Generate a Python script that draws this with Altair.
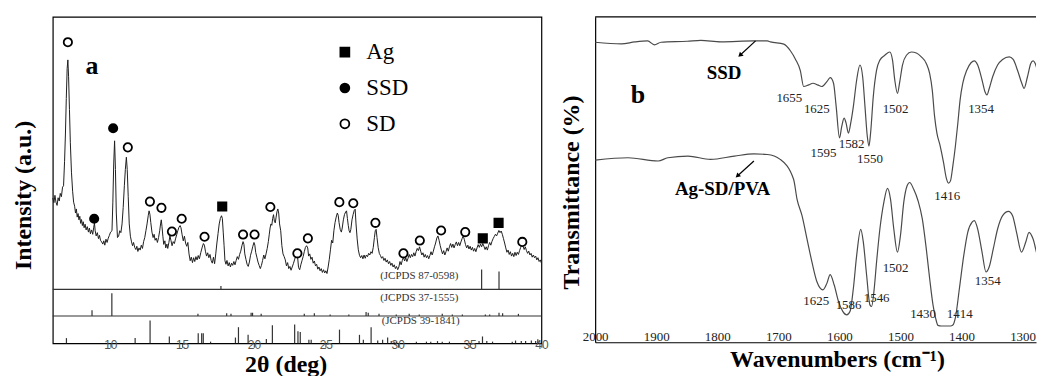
import altair as alt
import pandas as pd

# ---------------- (a) XRD pattern ----------------
xrd_2theta = [6.00, 6.08, 6.15, 6.22, 6.30, 6.37, 6.45, 6.52, 6.60, 6.68, 6.75, 6.82, 6.88, 6.94, 7.00, 7.05, 7.10, 7.16, 7.22, 7.30,
              7.38, 7.45, 7.52, 7.58, 7.64, 7.70, 7.76, 7.82, 7.88, 7.94, 8.00, 8.06, 8.12, 8.18, 8.25, 8.32, 8.40, 8.48, 8.55, 8.62,
              8.70, 8.78, 8.85, 8.90, 8.95, 9.02, 9.10, 9.18, 9.25, 9.32, 9.40, 9.48, 9.55, 9.62, 9.70, 9.78, 9.86, 9.94, 10.02, 10.12,
              10.18, 10.24, 10.30, 10.36, 10.42, 10.50, 10.58, 10.66, 10.74, 10.82, 10.90, 10.98, 11.05, 11.12, 11.18, 11.25, 11.32, 11.40, 11.48, 11.55,
              11.62, 11.70, 11.78, 11.85, 11.92, 12.00, 12.08, 12.16, 12.24, 12.32, 12.40, 12.48, 12.56, 12.64, 12.70, 12.76, 12.82, 12.90, 12.98, 13.05,
              13.12, 13.20, 13.28, 13.36, 13.44, 13.50, 13.55, 13.60, 13.66, 13.72, 13.80, 13.86, 13.94, 14.00, 14.08, 14.15, 14.22, 14.30, 14.38, 14.46,
              14.54, 14.62, 14.70, 14.78, 14.86, 14.92, 15.00, 15.08, 15.16, 15.24, 15.32, 15.40, 15.48, 15.56, 15.64, 15.72, 15.80, 15.88, 15.96, 16.04,
              16.12, 16.20, 16.30, 16.40, 16.48, 16.55, 16.62, 16.70, 16.78, 16.86, 16.94, 17.02, 17.10, 17.18, 17.26, 17.34, 17.42, 17.50, 17.58, 17.66,
              17.74, 17.80, 17.86, 17.92, 17.98, 18.05, 18.12, 18.20, 18.28, 18.36, 18.44, 18.52, 18.60, 18.68, 18.76, 18.84, 18.92, 19.00, 19.08, 19.16,
              19.24, 19.30, 19.36, 19.44, 19.52, 19.60, 19.68, 19.76, 19.84, 19.92, 20.00, 20.06, 20.12, 20.20, 20.28, 20.36, 20.44, 20.52, 20.60, 20.68,
              20.76, 20.84, 20.92, 21.00, 21.06, 21.12, 21.18, 21.24, 21.30, 21.36, 21.42, 21.48, 21.54, 21.60, 21.66, 21.72, 21.78, 21.86, 21.94, 22.02,
              22.10, 22.18, 22.26, 22.34, 22.42, 22.50, 22.58, 22.66, 22.74, 22.82, 22.90, 22.98, 23.04, 23.10, 23.18, 23.26, 23.34, 23.42, 23.50, 23.58,
              23.66, 23.74, 23.80, 23.88, 23.96, 24.04, 24.12, 24.20, 24.28, 24.36, 24.44, 24.52, 24.60, 24.68, 24.76, 24.84, 24.92, 25.00, 25.08, 25.16,
              25.24, 25.32, 25.40, 25.48, 25.56, 25.64, 25.72, 25.80, 25.86, 25.92, 26.00, 26.08, 26.14, 26.22, 26.30, 26.38, 26.44, 26.50, 26.56, 26.62,
              26.68, 26.74, 26.82, 26.90, 26.98, 27.04, 27.10, 27.18, 27.26, 27.34, 27.42, 27.50, 27.58, 27.66, 27.74, 27.82, 27.90, 27.98, 28.06, 28.14,
              28.22, 28.30, 28.38, 28.44, 28.50, 28.56, 28.64, 28.72, 28.80, 28.88, 28.96, 29.04, 29.12, 29.20, 29.28, 29.36, 29.44, 29.52, 29.60, 29.68,
              29.76, 29.84, 29.92, 30.00, 30.08, 30.16, 30.24, 30.32, 30.40, 30.48, 30.56, 30.64, 30.72, 30.80, 30.88, 30.96, 31.04, 31.12, 31.20, 31.28,
              31.36, 31.44, 31.52, 31.60, 31.68, 31.76, 31.84, 31.92, 32.00, 32.08, 32.16, 32.24, 32.32, 32.40, 32.48, 32.56, 32.64, 32.72, 32.80, 32.88,
              32.96, 33.04, 33.12, 33.20, 33.28, 33.36, 33.44, 33.52, 33.60, 33.68, 33.76, 33.84, 33.92, 34.00, 34.08, 34.16, 34.24, 34.32, 34.40, 34.48,
              34.56, 34.64, 34.72, 34.80, 34.88, 34.96, 35.04, 35.12, 35.20, 35.28, 35.36, 35.44, 35.52, 35.60, 35.68, 35.76, 35.84, 35.92, 36.00, 36.08,
              36.16, 36.24, 36.32, 36.40, 36.48, 36.56, 36.64, 36.72, 36.80, 36.88, 36.96, 37.04, 37.12, 37.20, 37.28, 37.36, 37.44, 37.52, 37.60, 37.68,
              37.76, 37.84, 37.92, 38.00, 38.08, 38.16, 38.24, 38.32, 38.40, 38.48, 38.56, 38.64, 38.72, 38.80, 38.88, 38.96, 39.04, 39.12, 39.20, 39.28,
              39.36, 39.44, 39.52, 39.60, 39.68, 39.76, 39.84, 39.92, 40.00]
xrd_intensity = [33.5, 31.8, 34.5, 32.0, 30.8, 33.6, 32.4, 35.2, 34.0, 37.5, 38.0, 47.0, 57.0, 70.0, 81.0, 84.2, 78.0, 66.0, 54.0, 43.0,
                 36.0, 32.0, 30.5, 28.0, 29.5, 26.5, 27.8, 25.5, 26.8, 24.2, 25.6, 23.4, 24.8, 22.6, 23.9, 21.8, 23.0, 21.0, 22.5, 20.4,
                 21.8, 20.2, 22.8, 24.3, 21.5, 19.6, 20.8, 18.6, 19.8, 18.0, 17.4, 16.6, 17.8, 16.2, 18.4, 17.2, 18.8, 19.8, 21.0, 21.5,
                 32.0, 46.0, 54.5, 44.0, 28.0, 19.0, 19.5, 21.5, 20.8, 24.0, 30.0, 38.0, 44.0, 48.5, 44.0, 34.0, 24.0, 19.5, 17.4, 16.0,
                 17.2, 15.4, 14.6, 15.8, 13.9, 15.2, 14.4, 16.2, 15.0, 17.5, 19.0, 21.5, 24.0, 27.0, 28.8, 27.5, 24.5, 21.0, 19.0, 20.2,
                 18.0, 18.8, 17.2, 19.0, 21.5, 24.0, 25.5, 23.0, 19.5, 16.5, 17.8, 15.2, 16.6, 15.0, 17.2, 19.6, 18.0, 16.0, 17.5, 16.8,
                 18.5, 20.0, 21.5, 22.8, 23.4, 22.6, 20.0, 17.8, 19.5, 17.0, 15.8, 17.2, 13.0, 10.5, 11.8, 9.8, 11.6, 10.2, 12.0, 10.8,
                 12.4, 11.2, 13.5, 15.5, 16.8, 16.2, 14.0, 12.2, 13.4, 11.6, 12.8, 10.6, 9.6, 11.8, 9.4, 13.0, 17.0, 20.5, 24.0, 26.0,
                 27.0, 26.0, 21.0, 16.0, 10.5, 9.2, 10.6, 8.6, 9.8, 8.2, 9.6, 8.8, 10.2, 9.0, 10.6, 12.0, 11.0, 12.8, 14.0, 16.0,
                 17.5, 16.5, 13.0, 11.0, 9.2, 8.4, 10.0, 12.5, 14.0, 15.8, 17.2, 16.2, 13.5, 11.8, 10.0, 8.8, 7.6, 8.8, 10.6, 12.6,
                 11.2, 13.0, 15.0, 17.5, 20.0, 22.5, 24.0, 23.5, 26.0, 27.4, 25.0, 24.4, 26.5, 28.5, 29.5, 28.0, 24.0, 21.5, 16.0, 13.0,
                 12.0, 10.8, 8.6, 9.8, 7.6, 8.4, 7.0, 8.2, 9.4, 10.8, 12.2, 13.2, 11.6, 8.0, 7.2, 9.0, 10.5, 12.0, 13.8, 15.4,
                 16.0, 15.2, 12.2, 13.0, 11.0, 11.8, 9.6, 10.4, 8.6, 9.2, 7.4, 8.2, 6.8, 7.6, 6.2, 7.2, 6.0, 6.8, 5.8, 8.2,
                 11.0, 14.5, 18.0, 17.0, 21.5, 24.5, 26.5, 28.0, 27.2, 24.5, 22.0, 21.0, 22.5, 25.5, 27.5, 28.4, 28.8, 26.0, 23.5, 21.5,
                 20.8, 22.0, 25.5, 27.5, 29.0, 29.4, 24.0, 18.5, 14.5, 12.5, 11.6, 12.4, 11.2, 12.6, 11.4, 12.6, 12.0, 13.2, 12.6, 13.8,
                 13.2, 15.4, 19.0, 21.5, 22.0, 19.0, 15.4, 13.2, 12.4, 11.4, 12.0, 10.6, 11.4, 10.0, 10.8, 9.4, 10.2, 8.8, 9.6, 8.2,
                 9.0, 7.6, 8.4, 7.2, 8.2, 10.2, 9.0, 10.6, 11.8, 10.4, 11.6, 10.2, 11.4, 12.8, 11.6, 12.8, 12.0, 13.4, 12.2, 13.8,
                 15.0, 14.2, 15.6, 14.0, 12.6, 13.4, 11.8, 12.8, 11.6, 12.4, 11.2, 12.4, 13.8, 12.6, 14.0, 15.6, 17.0, 18.8, 19.6, 18.0,
                 16.0, 14.4, 13.0, 14.2, 12.6, 13.8, 15.2, 14.0, 15.6, 16.8, 15.4, 16.6, 15.2, 16.4, 17.4, 16.0, 17.2, 16.0, 17.4, 18.6,
                 19.6, 18.2, 16.4, 15.2, 16.2, 14.8, 15.8, 14.4, 15.4, 14.0, 15.0, 13.8, 15.2, 16.4, 15.4, 16.6, 15.6, 16.8, 15.8, 14.6,
                 15.6, 14.4, 16.0, 17.2, 16.2, 17.6, 18.6, 19.4, 20.2, 19.6, 20.6, 21.6, 20.8, 21.4, 20.2, 18.6, 17.0, 15.2, 13.6, 14.4,
                 12.8, 13.8, 12.2, 13.2, 12.0, 13.6, 12.4, 13.6, 12.8, 14.2, 15.4, 16.6, 15.8, 14.6, 15.6, 14.2, 13.2, 14.0, 12.6, 13.2,
                 11.8, 12.6, 11.6, 12.2, 10.8, 11.6, 10.2, 10.8, 9.6]

# phase markers on the pattern
sd_2theta = [7.05, 11.22, 12.76, 13.56, 14.29, 14.97, 16.56, 19.24, 20.04, 21.14, 23.02, 23.75, 25.94, 26.91, 28.45, 30.40, 31.54, 33.02, 34.70, 38.67]
sd_int = [90.7, 52.1, 32.2, 29.9, 21.2, 25.9, 19.3, 20.1, 20.1, 30.2, 13.2, 18.7, 32.0, 31.6, 24.4, 13.2, 17.9, 21.6, 21.0, 17.4]
ssd_2theta = [8.88, 10.20]
ssd_int = [25.9, 59.1]
ag_2theta = [17.79, 35.92, 37.02]
ag_int = [30.4, 18.7, 24.4]

# reference stick patterns
jcpds_87_0598_pos = [17.7, 35.84, 37.05]
jcpds_87_0598_h = [1.2, 7.3, 6.5]
jcpds_37_1555_pos = [8.73, 10.11, 16.1, 18.1, 18.4, 19.8, 19.9, 20.5, 23.5, 24.2, 25.3, 26.6, 27.8, 27.95, 28.7, 29.9, 30.8, 31.5,
                     33.1, 33.8, 34.5, 36.1, 36.4, 37.05, 37.3, 38.4]
jcpds_37_1555_h = [2.1, 8.4, 0.8, 1.0, 0.8, 1.2, 1.2, 0.8, 0.8, 1.0, 0.6, 0.6, 1.5, 1.2, 0.8, 0.6, 0.8, 0.6,
                   0.8, 0.6, 0.6, 0.6, 0.6, 1.2, 1.0, 0.8]
jcpds_39_1841_pos = [6.95, 11.73, 12.77, 14.11, 16.12, 16.36, 16.47, 16.98, 18.71, 18.92, 19.59, 20.86, 21.28, 22.83, 23.06, 23.22,
                     23.82, 23.98, 25.95, 27.34, 27.61, 28.15, 28.61, 28.95, 29.3, 29.55, 29.75, 29.9, 31.3, 32.0, 32.3, 32.77,
                     33.1, 33.6, 35.66, 35.9, 36.2, 36.6, 37.97, 38.2, 38.6, 38.9, 39.3, 39.6, 39.75]
jcpds_39_1841_h = [1.9, 1.9, 8.4, 2.5, 3.7, 3.7, 3.7, 0.6, 2.1, 5.9, 3.1, 1.6, 6.6, 6.9, 4.4, 4.1,
                   1.3, 1.3, 5.0, 3.1, 1.3, 5.9, 1.0, 1.3, 2.1, 0.8, 0.6, 0.6, 0.6, 0.6, 0.6, 0.8,
                   0.6, 0.6, 0.8, 2.5, 0.8, 0.6, 0.6, 1.0, 0.8, 0.8, 1.0, 0.8, 1.5]
jcpds_names = ["(JCPDS 87-0598)", "(JCPDS 37-1555)", "(JCPDS 39-1841)"]
xrd_tick_labels = [10, 15, 20, 25, 30, 35, 40]

# ---------------- (b) FTIR spectra ----------------
ssd_wn = [2000, 1957, 1935, 1914, 1903, 1892, 1849, 1827, 1794, 1740, 1718, 1713, 1691, 1680, 1672, 1664, 1658.5, 1650.3, 1643.3,
          1635.7, 1628.7, 1620.5, 1615.1, 1609.6, 1605.3, 1599.8, 1596.1, 1592.3, 1589.1, 1585.2, 1581.4, 1577.1, 1571.7, 1566.3,
          1561.9, 1558.1, 1554.3, 1551.6, 1548.9, 1544.5, 1539.1, 1533.7, 1525.6, 1517.4, 1513.0, 1509.3, 1504.9, 1501.1, 1496.7,
          1490.2, 1482.1, 1473.9, 1465.8, 1457.7, 1452.2, 1447.9, 1444.1, 1440.3, 1434.9, 1429.4, 1425.1, 1421.3, 1418.1, 1414.2,
          1410.0, 1406.0, 1402.3, 1397.9, 1391.4, 1384.4, 1379.0, 1373.5, 1366.4, 1361.6, 1358.3, 1354.6, 1349.0, 1340.9, 1332.7,
          1321.9, 1315.4, 1308.3, 1301.3, 1297.6, 1292.0, 1286.6, 1282.9, 1277.3, 1273.1, 1268.7]
ssd_T = [92.2, 91.7, 92.3, 92.6, 91.4, 92.2, 92.5, 92.8, 92.3, 92.6, 92.6, 92.3, 91.6, 89.5, 87.0, 83.5, 78.6, 79.1, 79.6,
         79.1, 78.6, 80.1, 81.3, 79.6, 72.5, 62.8, 66.4, 68.9, 67.4, 64.3, 67.4, 72.5, 80.6, 85.2,
         81.6, 72.5, 63.3, 60.3, 64.3, 75.5, 83.6, 86.7, 88.2, 89.2, 86.7, 80.6, 76.5, 80.1, 85.2,
         88.2, 89.2, 88.9, 87.7, 85.7, 82.6, 77.5, 69.4, 64.3, 60.3, 55.2, 50.6, 48.9, 49.6, 54.2,
         60.3, 67.4, 74.5, 79.6, 83.6, 85.9, 86.5, 85.2, 80.6, 77.0, 76.0, 78.0, 81.6, 85.2, 86.9,
         87.7, 86.9, 83.6, 79.6, 78.0, 81.6, 85.7, 86.5, 84.6, 80.6, 77.0]
agsd_wn = [2000, 1946, 1897, 1881, 1848, 1811, 1772, 1740, 1718, 1697, 1675, 1669.4, 1661.2, 1653.1, 1645.0, 1636.8, 1627.0,
           1620.5, 1615.1, 1608.5, 1601.4, 1594.5, 1588.0, 1582.5, 1577.1, 1571.7, 1565.1, 1560.8, 1555.4, 1550.0, 1547.2,
           1543.5, 1539.1, 1533.7, 1527.2, 1521.2, 1516.3, 1510.9, 1504.9, 1500.0, 1494.6, 1489.1, 1484.9, 1478.3, 1471.2,
           1464.2, 1457.7, 1452.2, 1446.7, 1442.5, 1438.6, 1433, 1425, 1418, 1414.2, 1410.0, 1403.4, 1396.3, 1389.8, 1382.7,
           1379.0, 1373.5, 1366.4, 1359.9, 1354.6, 1348.0, 1340.9, 1332.7, 1323.0, 1316.4, 1309.9, 1301.8, 1294.8, 1289.4,
           1282.9, 1275.7, 1268.7]
agsd_T = [56.0, 56.7, 55.7, 56.7, 57.2, 56.2, 57.2, 57.9, 57.7, 56.2, 50.1, 44.0, 38.9, 31.8, 24.7, 18.6, 16.1,
          18.1, 20.8, 17.6, 12.5, 9.5, 8.4, 9.5, 16.6, 26.7, 34.7, 30.8, 20.6, 11.5, 11.0,
          15.5, 24.7, 34.8, 43.0, 47.3, 44.0, 34.8, 27.7, 32.8, 43.0, 48.1, 49.1, 47.0, 43.5,
          37.9, 28.7, 19.6, 11.5, 7.5, 5.2, 5.0, 5.0, 5.0, 5.3, 7.6, 16.6, 26.7, 33.8, 36.9,
          37.4, 34.8, 27.7, 21.6, 23.2, 28.7, 34.8, 38.9, 40.2, 38.9, 33.8, 27.7, 30.8, 33.8,
          31.8, 26.7, 24.2]
ftir_tick_labels = [2000, 1900, 1800, 1700, 1600, 1500, 1400, 1300]

# peak annotations (text, wavenumber, transmittance)
ssd_peak_labels = ["1655", "1625", "1595", "1582", "1550", "1502", "1354", "1416"]
ssd_peak_wn = [1682, 1637, 1626, 1580, 1550, 1508, 1368, 1423.5]
ssd_peak_T = [75.0, 71.6, 58.2, 60.8, 56.2, 71.6, 71.6, 44.8]
agsd_peak_labels = ["1625", "1586", "1546", "1502", "1354", "1430", "1414"]
agsd_peak_wn = [1638, 1585, 1539, 1508, 1357, 1463, 1403]
agsd_peak_T = [12.7, 11.3, 13.7, 22.7, 18.8, 8.6, 8.6]

SERIF = "Liberation Serif"

# ================= left panel =================
LW, LH = 491, 328
ydom = [-19.8, 100]
sep = [0, -9.8, -19.8]

xscale_l = alt.Scale(domain=[6, 40], nice=False, zero=False)
yscale_l = alt.Scale(domain=ydom, nice=False, zero=False)
X_L = alt.X("x:Q", scale=xscale_l)
Y_L = alt.Y("y:Q", scale=yscale_l)

trace_df = pd.DataFrame({"x": xrd_2theta, "y": xrd_intensity})
trace = alt.Chart(trace_df).mark_line(color="#1e1e1e", strokeWidth=1.0).encode(
    x=alt.X("x:Q", scale=xscale_l, title="2θ (deg)",
            axis=alt.Axis(values=xrd_tick_labels,
                          grid=False, domain=False, ticks=True, tickSize=4, tickColor="#333", tickWidth=1,
                          labelFont="Liberation Sans", labelFontSize=12, labelColor="#555",
                          labelBaseline="middle", labelPadding=-3, labelFlush=False, labelOverlap=False,
                          titleFont=SERIF, titleFontSize=24, titleFontWeight="bold", titleColor="black",
                          titlePadding=2, titleX=234)),
    y=alt.Y("y:Q", scale=yscale_l, title="Intensity (a.u.)",
            axis=alt.Axis(labels=False, ticks=False, grid=False, domain=False,
                          titleFont=SERIF, titleFontSize=24, titleFontWeight="bold", titleColor="black",
                          titlePadding=17, titleY=179)),
)

sep_rules = alt.Chart(pd.DataFrame({"y": sep[:2]})).mark_rule(color="#333", strokeWidth=1.2).encode(y=Y_L)

stick_rows = []
for name, pos, hts, base in [(jcpds_names[0], jcpds_87_0598_pos, jcpds_87_0598_h, sep[0]),
                             (jcpds_names[1], jcpds_37_1555_pos, jcpds_37_1555_h, sep[1]),
                             (jcpds_names[2], jcpds_39_1841_pos, jcpds_39_1841_h, sep[2])]:
    for p, h in zip(pos, hts):
        stick_rows.append({"x": p, "y": base, "y2": base + h, "card": name})
sticks = alt.Chart(pd.DataFrame(stick_rows)).mark_rule(color="#333", strokeWidth=1.2).encode(
    x=X_L, y=Y_L, y2="y2:Q")

card_df = pd.DataFrame({"x": [31.5, 31.5, 31.6], "y": [4.9, -3.3, -11.6], "t": jcpds_names})
cards = alt.Chart(card_df).mark_text(font=SERIF, fontSize=11, color="#333").encode(
    x=X_L, y=Y_L, text="t:N")

mk_rows = ([{"x": a, "y": b, "phase": "Ag"} for a, b in zip(ag_2theta, ag_int)] +
           [{"x": a, "y": b, "phase": "SSD"} for a, b in zip(ssd_2theta, ssd_int)] +
           [{"x": a, "y": b, "phase": "SD"} for a, b in zip(sd_2theta, sd_int)])
phases = ["Ag", "SSD", "SD"]
leg = dict(orient="none", legendX=282, legendY=24, title=None, labelFont=SERIF, labelFontSize=23,
           labelColor="black", labelOffset=10, rowPadding=12, symbolStrokeWidth=1.8, symbolSize=80, padding=0)
markers = alt.Chart(pd.DataFrame(mk_rows)).mark_point(filled=True, strokeWidth=1.8,
                                                      size=70, opacity=1, fillOpacity=1).encode(
    x=X_L, y=Y_L,
    shape=alt.Shape("phase:N", scale=alt.Scale(domain=phases, range=["square", "circle", "circle"]),
                    legend=alt.Legend(**leg)),
    fill=alt.Fill("phase:N", scale=alt.Scale(domain=phases, range=["black", "black", "white"]),
                  legend=alt.Legend(**leg)),
    stroke=alt.Stroke("phase:N", scale=alt.Scale(domain=phases, range=["black", "black", "black"]),
                      legend=alt.Legend(**leg)),
)

a_label = alt.Chart(pd.DataFrame({"x": [8.73], "y": [81.8], "t": ["a"]})).mark_text(
    font=SERIF, fontSize=26, fontWeight="bold", color="black").encode(x=X_L, y=Y_L, text="t:N")

left = alt.layer(trace, sep_rules, sticks, cards, markers, a_label).properties(
    width=LW, height=LH, view=alt.ViewBackground(stroke="black", strokeWidth=1.2))

# ================= right panel =================
RW, RH = 443, 327
xscale_r = alt.Scale(domain=[1278, 2000], reverse=True, nice=False, zero=False)
yscale_r = alt.Scale(domain=[0, 100], nice=False, zero=False)
X_R = alt.X("x:Q", scale=xscale_r)
Y_R = alt.Y("y:Q", scale=yscale_r)

spec_df = pd.concat([
    pd.DataFrame({"x": ssd_wn, "y": ssd_T, "s": "SSD"}),
    pd.DataFrame({"x": agsd_wn, "y": agsd_T, "s": "Ag-SD/PVA"}),
])
spectra = alt.Chart(spec_df).mark_line(color="#4a4a4a", strokeWidth=1.2, interpolate="monotone", clip=True).encode(
    x=alt.X("x:Q", scale=xscale_r, title="Wavenumbers (cm⁻¹)",
            axis=alt.Axis(values=ftir_tick_labels, format="d",
                          grid=False, domain=True, domainColor="black", domainWidth=1.2,
                          ticks=False, tickSize=0,
                          labelFont=SERIF, labelFontSize=13, labelColor="#222",
                          labelBaseline="middle", labelPadding=-6, labelFlush=False, labelOverlap=False,
                          titleFont=SERIF, titleFontSize=24, titleFontWeight="bold", titleColor="black",
                          titlePadding=4, titleX=243)),
    y=alt.Y("y:Q", scale=yscale_r, title="Transmittance (%)",
            axis=alt.Axis(labels=False, ticks=False, grid=False, domain=True, domainColor="black",
                          domainWidth=1.2, titleFont=SERIF, titleFontSize=24, titleFontWeight="bold",
                          titleColor="black", titlePadding=12, titleY=176)),
    detail="s:N",
)

top_rule = alt.Chart(pd.DataFrame({"y": [100]})).mark_rule(color="black", strokeWidth=1.2).encode(y=Y_R)

num_df = pd.concat([
    pd.DataFrame({"x": ssd_peak_wn, "y": ssd_peak_T, "t": ssd_peak_labels}),
    pd.DataFrame({"x": agsd_peak_wn, "y": agsd_peak_T, "t": agsd_peak_labels}),
])
numbers = alt.Chart(num_df).mark_text(font=SERIF, fontSize=13, color="#222").encode(
    x=X_R, y=Y_R, text="t:N")

bold_df = pd.DataFrame({"x": [1930, 1789, 1791.5], "y": [76.1, 82.8, 47.0], "t": ["b", "SSD", "Ag-SD/PVA"]})
bold_b = alt.Chart(bold_df.iloc[[0]]).mark_text(font=SERIF, fontSize=26, fontWeight="bold", color="black").encode(
    x=X_R, y=Y_R, text="t:N")
bold_names = alt.Chart(bold_df.iloc[[1, 2]]).mark_text(font=SERIF, fontSize=19, fontWeight="bold", color="black").encode(
    x=X_R, y=Y_R, text="t:N")

arrow_df = pd.DataFrame({"x": [1737.3, 1740.0], "y": [92.6, 55.7], "x2": [1762.7, 1767.0], "y2": [88.2, 51.1]})
arrow_shaft = alt.Chart(arrow_df).mark_rule(color="black", strokeWidth=1.2).encode(
    x=X_R, y=Y_R, x2="x2:Q", y2="y2:Q")
arrow_head = alt.Chart(arrow_df).mark_point(shape="triangle-up", angle=227, size=30, filled=True,
                                            color="black", opacity=1).encode(
    x=alt.X("x2:Q", scale=xscale_r), y=alt.Y("y2:Q", scale=yscale_r))

right = alt.layer(spectra, top_rule, numbers, bold_b, bold_names, arrow_shaft, arrow_head).properties(
    width=RW, height=RH, view=alt.ViewBackground(stroke="transparent"))

chart = alt.hconcat(left, right, spacing=54, bounds="flush").resolve_scale(
    fill="independent", shape="independent", stroke="independent"
).properties(
    padding={"left": 3, "top": 6, "right": 0, "bottom": 0}, background="white"
).configure_view(stroke="transparent")

chart.save("out.html", embed_options={"renderer": "svg", "actions": False})
